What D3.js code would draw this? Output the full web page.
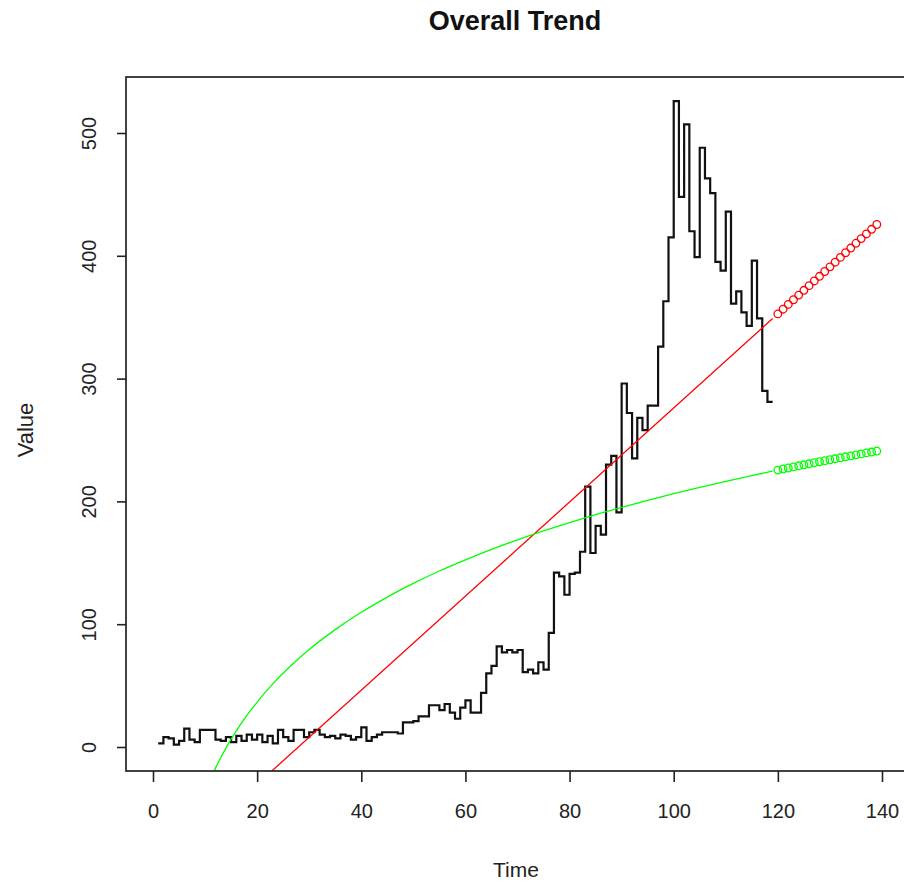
<!DOCTYPE html>
<html>
<head>
<meta charset="utf-8">
<script src="https://cdn.jsdelivr.net/npm/d3@7"></script>
<style>
  html, body { margin: 0; padding: 0; background: #fff; }
  svg { display: block; font-family: "Liberation Sans", Arial, sans-serif; }
</style>
</head>
<body>
<svg id="chart" width="904" height="885"></svg>
<script>
// ---- data ----
const observedValues = [
  3, 8, 7, 2, 5, 15, 6, 4, 14, 14, 14, 6, 5, 8, 4, 9, 5, 10, 6, 10,
  4, 9, 3, 14, 8, 5, 14, 14, 8, 12, 14, 10, 8, 9, 7, 10, 9, 6, 8, 16,
  5, 8, 10, 12, 12, 12, 11, 20, 20, 21, 25, 25, 34, 34, 30, 35, 28, 23, 32, 38,
  28, 28, 44, 60, 66, 82, 77, 79, 77, 79, 61, 63, 60, 69, 63, 93, 142, 139, 124, 141,
  142, 159, 212, 158, 180, 173, 230, 237, 191, 296, 272, 235, 268, 258, 278, 278, 326, 363, 415, 526,
  448, 507, 420, 399, 488, 463, 451, 395, 388, 436, 361, 371, 354, 343, 396, 349, 290, 281, 281
];
const observedStart = 1;

const linearFitTime  = [1, 119];
const linearFitValue = [-103.1, 348.9];

const logFitTime  = [10, 11, 12, 13, 14, 16, 18, 20, 23, 26, 30, 35, 40, 45, 50, 55, 60, 65, 70, 75, 80, 85, 90, 95, 100, 105, 110, 115, 119];
const logFitValue = [-36.4, -26.4, -17.2, -8.8, -0.9, 13.1, 25.5, 36.6, 51.4, 64.3, 79.4, 95.6, 109.7, 122.1, 133.2, 143.3, 152.4, 160.9, 168.7, 176.0, 182.8, 189.2, 195.2, 200.9, 206.3, 211.4, 216.3, 221.0, 224.6];

const forecastTime = [120, 121, 122, 123, 124, 125, 126, 127, 128, 129, 130, 131, 132, 133, 134, 135, 136, 137, 138, 139];
const linearForecast = [352.7, 356.5, 360.4, 364.2, 368.0, 371.9, 375.7, 379.5, 383.3, 387.2, 391.0, 394.8, 398.7, 402.5, 406.3, 410.2, 414.0, 417.8, 421.6, 425.5];
const logForecast = [225.5, 226.4, 227.2, 228.1, 229.0, 229.8, 230.6, 231.5, 232.3, 233.1, 233.9, 234.7, 235.5, 236.3, 237.1, 237.9, 238.7, 239.5, 240.2, 241.0];

const xTicks = [0, 20, 40, 60, 80, 100, 120, 140];
const yTicks = [0, 100, 200, 300, 400, 500];

const titleText = "Overall Trend";
const xLabel = "Time";
const yLabel = "Value";

// ---- layout ----
const box = { left: 126, top: 77, right: 906, bottom: 771 };
const x = d3.scaleLinear().domain([0, 140]).range([153, 882]);
const y = d3.scaleLinear().domain([0, 500]).range([747, 133]);

const svg = d3.select("#chart");

svg.append("defs").append("clipPath").attr("id", "plotclip")
  .append("rect")
  .attr("x", box.left).attr("y", box.top)
  .attr("width", box.right - box.left).attr("height", box.bottom - box.top);

const plot = svg.append("g").attr("clip-path", "url(#plotclip)");

// observed step line
const obs = observedValues.map((v, i) => ({ t: observedStart + i, v }));
plot.append("path")
  .datum(obs)
  .attr("fill", "none")
  .attr("stroke", "#111")
  .attr("stroke-width", 2.2)
  .attr("stroke-linejoin", "miter")
  .attr("d", d3.line().x(d => x(d.t)).y(d => y(d.v)).curve(d3.curveStepAfter));

// linear fit
const lin = linearFitTime.map((t, i) => ({ t, v: linearFitValue[i] }));
plot.append("path")
  .datum(lin)
  .attr("fill", "none")
  .attr("stroke", "#ff0000")
  .attr("stroke-width", 1.3)
  .attr("d", d3.line().x(d => x(d.t)).y(d => y(d.v)));

// log fit
const lg = logFitTime.map((t, i) => ({ t, v: logFitValue[i] }));
plot.append("path")
  .datum(lg)
  .attr("fill", "none")
  .attr("stroke", "#00ff00")
  .attr("stroke-width", 1.3)
  .attr("d", d3.line().x(d => x(d.t)).y(d => y(d.v)).curve(d3.curveMonotoneX));

// forecasts as open circles
plot.selectAll("circle.lin")
  .data(forecastTime.map((t, i) => ({ t, v: linearForecast[i] })))
  .enter().append("circle")
  .attr("class", "lin")
  .attr("cx", d => x(d.t)).attr("cy", d => y(d.v)).attr("r", 3.8)
  .attr("fill", "none").attr("stroke", "#ff0000").attr("stroke-width", 1.3);

plot.selectAll("circle.log")
  .data(forecastTime.map((t, i) => ({ t, v: logForecast[i] })))
  .enter().append("circle")
  .attr("class", "log")
  .attr("cx", d => x(d.t)).attr("cy", d => y(d.v)).attr("r", 3.8)
  .attr("fill", "none").attr("stroke", "#00ff00").attr("stroke-width", 1.3);

// box
svg.append("rect")
  .attr("x", box.left).attr("y", box.top)
  .attr("width", box.right - box.left).attr("height", box.bottom - box.top)
  .attr("fill", "none").attr("stroke", "#222").attr("stroke-width", 1.7);

// x axis
const xAxis = d3.axisBottom(x).tickValues(xTicks).tickSizeInner(11).tickSizeOuter(0).tickPadding(22);
const gx = svg.append("g").attr("transform", `translate(0,${box.bottom})`).call(xAxis);
gx.select(".domain").remove();
gx.selectAll(".tick line").attr("stroke", "#222").attr("stroke-width", 1.6);
gx.selectAll(".tick text").attr("font-size", 20).attr("fill", "#222")
  .attr("font-family", "'Liberation Sans', Arial, sans-serif");

// y axis
const yAxis = d3.axisLeft(y).tickValues(yTicks).tickSizeInner(9).tickSizeOuter(0).tickPadding(0);
const gy = svg.append("g").attr("transform", `translate(${box.left},0)`).call(yAxis);
gy.select(".domain").remove();
gy.selectAll(".tick line").attr("stroke", "#222").attr("stroke-width", 1.6);
gy.selectAll(".tick text")
  .attr("font-size", 20).attr("fill", "#222")
  .attr("font-family", "'Liberation Sans', Arial, sans-serif")
  .attr("text-anchor", "middle")
  .attr("x", 0).attr("dy", 0)
  .attr("transform", "translate(-37,0) rotate(-90)")
  .attr("dominant-baseline", "central");

// title and labels
svg.append("text")
  .attr("x", 515).attr("y", 30)
  .attr("text-anchor", "middle")
  .attr("font-size", 27).attr("font-weight", "bold").attr("fill", "#111")
  .text(titleText);

svg.append("text")
  .attr("x", 516).attr("y", 877)
  .attr("text-anchor", "middle")
  .attr("font-size", 21).attr("fill", "#222")
  .text(xLabel);

svg.append("text")
  .attr("transform", "translate(33,430) rotate(-90)")
  .attr("text-anchor", "middle")
  .attr("font-size", 22).attr("fill", "#222")
  .text(yLabel);
</script>
</body>
</html>
